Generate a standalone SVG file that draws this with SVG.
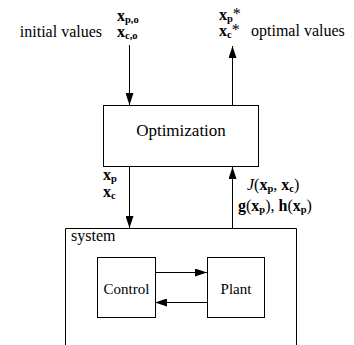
<svg xmlns="http://www.w3.org/2000/svg" width="354" height="345" viewBox="0 0 354 345">
<style>
text{font-family:'Liberation Serif','Times New Roman',serif;fill:#000}
.t{font-size:16px}
.s{font-size:15px}
.b{font-weight:bold}
.sub{font-size:10.5px;font-weight:bold}
.box{fill:#fff;stroke:#000;stroke-width:1}
.ln{fill:none;stroke:#000;stroke-width:1}
</style>
<defs>
<marker id="ah" viewBox="0 0 12 8" refX="12" refY="4" markerWidth="12" markerHeight="8" markerUnits="userSpaceOnUse" orient="auto">
<path d="M0,0 L12,4 L0,8 Z" fill="#000"/>
</marker>
</defs>
<g id="connectors">
<line class="ln" x1="129.5" y1="45" x2="129.5" y2="105" marker-end="url(#ah)"/>
<line class="ln" x1="232.5" y1="105" x2="232.5" y2="46" marker-end="url(#ah)"/>
<line class="ln" x1="129.5" y1="167" x2="129.5" y2="228" marker-end="url(#ah)"/>
<line class="ln" x1="232.5" y1="228" x2="232.5" y2="167" marker-end="url(#ah)"/>
<line class="ln" x1="155" y1="272.5" x2="207" y2="272.5" marker-end="url(#ah)"/>
<line class="ln" x1="207" y1="302.5" x2="155" y2="302.5" marker-end="url(#ah)"/>
</g>
<g id="system">
<path class="ln" d="M65.5,345 V228.5 H296.5 V345"/>
<text class="t" x="71" y="241">system</text>
</g>
<g id="optimization">
<rect class="box" x="103.5" y="105.5" width="155" height="61"/>
<text class="t" x="181" y="136" text-anchor="middle" style="font-size:17px">Optimization</text>
</g>
<g id="control">
<rect class="box" x="97.5" y="257.5" width="58" height="60"/>
<text class="s" x="126.5" y="294" text-anchor="middle">Control</text>
</g>
<g id="plant">
<rect class="box" x="207.5" y="257.5" width="57" height="60"/>
<text class="s" x="236" y="294" text-anchor="middle">Plant</text>
</g>
<g id="labels">
<text class="t" x="102" y="37" text-anchor="end">initial values</text>
<text class="t" x="117" y="21"><tspan class="b">x</tspan><tspan class="sub" dy="2">p,o</tspan></text>
<text class="t" x="117" y="37"><tspan class="b">x</tspan><tspan class="sub" dy="2">c,o</tspan></text>
<text class="t" x="219" y="20"><tspan class="b">x</tspan><tspan class="sub" dy="2">p</tspan><tspan dy="-3">*</tspan></text>
<text class="t" x="219" y="36"><tspan class="b">x</tspan><tspan class="sub" dy="2">c</tspan><tspan dy="-3">*</tspan></text>
<text class="t" x="251" y="36">optimal values</text>
<text class="t" x="103" y="180"><tspan class="b">x</tspan><tspan class="sub" dy="2">p</tspan></text>
<text class="t" x="103" y="197"><tspan class="b">x</tspan><tspan class="sub" dy="2">c</tspan></text>
<text class="t" x="247" y="190"><tspan font-style="italic">J</tspan>(<tspan class="b">x</tspan><tspan class="sub" dy="2">p</tspan><tspan dy="-2">, </tspan><tspan class="b">x</tspan><tspan class="sub" dy="2">c</tspan><tspan dy="-2">)</tspan></text>
<text class="t" x="238" y="211"><tspan class="b">g</tspan>(<tspan class="b">x</tspan><tspan class="sub" dy="2">p</tspan><tspan dy="-2">), </tspan><tspan class="b">h</tspan>(<tspan class="b">x</tspan><tspan class="sub" dy="2">p</tspan><tspan dy="-2">)</tspan></text>
</g>
</svg>
